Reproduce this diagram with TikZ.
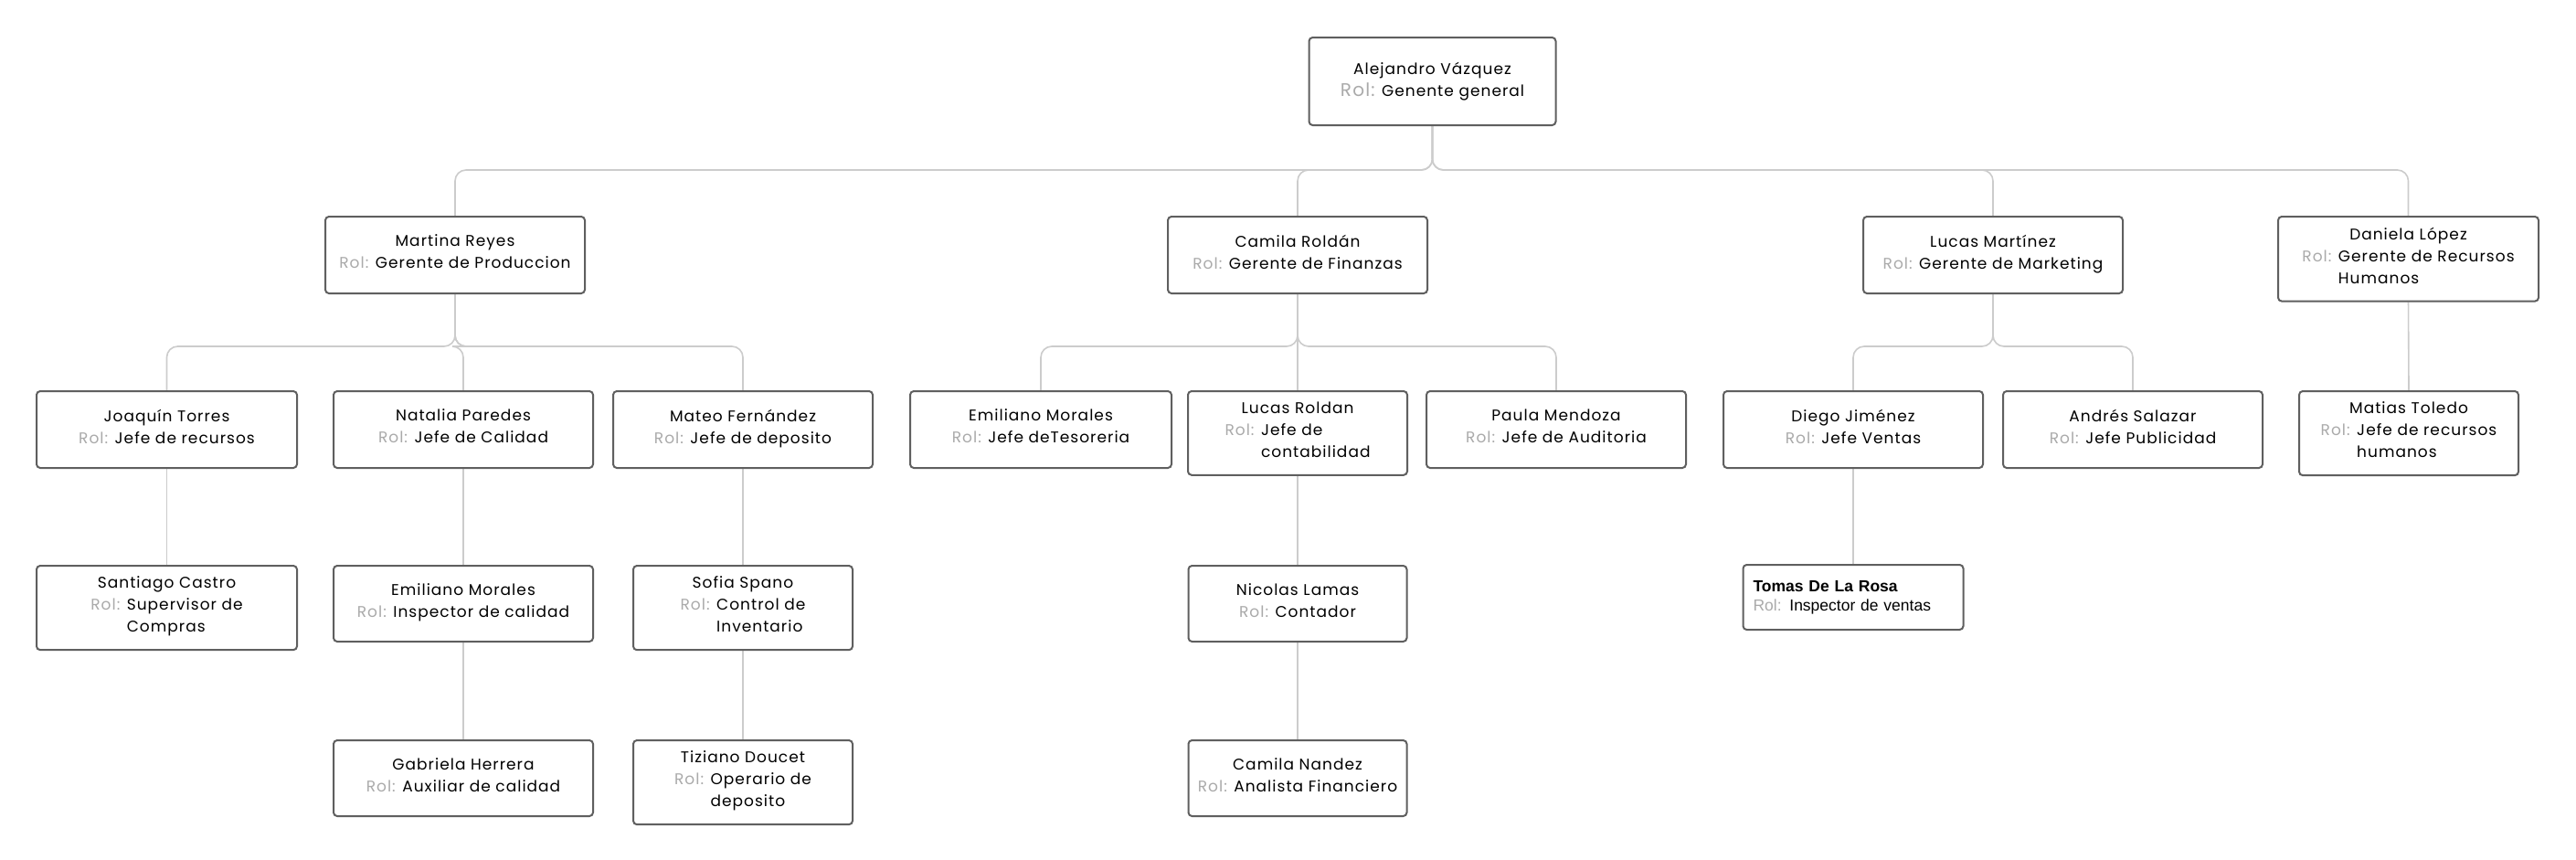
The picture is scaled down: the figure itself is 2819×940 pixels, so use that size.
\documentclass[tikz,border=0pt]{standalone}
\usepackage{fontspec}
\setmainfont{Poppins}[LetterSpace=6]
\newfontfamily\arialfont{Liberation Sans}
\usetikzlibrary{backgrounds}
\definecolor{borde}{HTML}{5F5F5F}
\definecolor{linea}{HTML}{CCCCCC}
\definecolor{rolgris}{HTML}{AAAAAA}
\newcommand{\rol}[1]{{\color{rolgris}Rol:} \begin{tabular}[t]{@{}l@{}}#1\end{tabular}}

\begin{document}
\begin{tikzpicture}[x=1pt,y=1pt,
    caja/.style={draw=borde, line width=2pt, rounded corners=4pt, fill=white,
      anchor=north, align=center, inner ysep=12pt, minimum width=284pt,
      minimum height=84pt, font=\fontsize{17}{24}\selectfont},
    conector/.style={draw=linea, line width=1.6pt, rounded corners=12pt}]
  \useasboundingbox (0,0) rectangle (2819,-940);

  % gerente general
  \node[caja, minimum width=270pt, minimum height=96pt] (av) at (1567.5,-40)
    {Alejandro Vázquez\\{\fontsize{20}{24}\selectfont\color{rolgris}Rol:} Genente general};

  % gerentes
  \node[caja] (mr) at (498,-236) {Martina Reyes\\\rol{Gerente de Produccion}};
  \node[caja] (cr) at (1420,-236) {Camila Roldán\\\rol{Gerente de Finanzas}};
  \node[caja] (lm) at (2181,-236) {Lucas Martínez\\\rol{Gerente de Marketing}};
  \node[caja, minimum width=285pt] (dl) at (2635.5,-236) {Daniela López\\\rol{Gerente de Recursos\\Humanos}};

  % jefes
  \node[caja, minimum width=285pt] (jt) at (182.5,-427) {Joaquín Torres\\\rol{Jefe de recursos}};
  \node[caja] (np) at (507,-427) {Natalia Paredes\\\rol{Jefe de Calidad}};
  \node[caja] (mf) at (813,-427) {Mateo Fernández\\\rol{Jefe de deposito}};
  \node[caja, minimum width=286pt] (em) at (1139,-427) {Emiliano Morales\\\rol{Jefe deTesoreria}};
  \node[caja, minimum width=240pt] (lr) at (1420,-427) {Lucas Roldan\\\rol{Jefe de\\contabilidad}};
  \node[caja] (pm) at (1703,-427) {Paula Mendoza\\\rol{Jefe de Auditoria}};
  \node[caja] (dj) at (2028,-427) {Diego Jiménez\\\rol{Jefe Ventas}};
  \node[caja] (as) at (2334,-427) {Andrés Salazar\\\rol{Jefe Publicidad}};
  \node[caja, minimum width=240pt] (mt) at (2636,-427) {Matias Toledo\\\rol{Jefe de recursos\\humanos}};

  % tercer nivel
  \node[caja, minimum width=285pt] (sc) at (182.5,-618) {Santiago Castro\\\rol{Supervisor de\\Compras}};
  \node[caja, minimum height=83pt] (em2) at (507,-618) {Emiliano Morales\\\rol{Inspector de calidad}};
  \node[caja, minimum width=240pt] (ss) at (813,-618) {Sofia Spano\\\rol{Control de\\Inventario}};
  \node[caja, minimum width=239pt, minimum height=83pt] (nl) at (1420,-618) {Nicolas Lamas\\\rol{Contador}};
  \node[caja, minimum width=241pt, minimum height=71pt, align=left, inner xsep=11pt,
    text width=219pt, font=\arialfont\fontsize{17.5}{21}\selectfont] (tr) at (2028,-617)
    {{\bfseries Tomas De La Rosa}\\{\color{rolgris}Rol:} Inspector de ventas};

  % cuarto nivel
  \node[caja, minimum height=83pt] (gh) at (507,-809) {Gabriela Herrera\\\rol{Auxiliar de calidad}};
  \node[caja, minimum width=240pt] (td) at (813,-809) {Tiziano Doucet\\\rol{Operario de\\deposito}};
  \node[caja, minimum width=239pt, minimum height=83pt] (cn) at (1420,-809) {Camila Nandez\\\rol{Analista Financiero}};

  \begin{pgfonlayer}{background}
    \fill[white] (0,0) rectangle (2819,-940);
    \draw[conector] (av.south) -- ++(0,-48) -| (mr.north);
    \draw[conector] (av.south) -- ++(0,-48) -| (cr.north);
    \draw[conector] (av.south) -- ++(0,-48) -| (lm.north);
    \draw[conector] (av.south) -- ++(0,-48) -| (dl.north);

    \draw[conector] (mr.south) -- ++(0,-57) -| (jt.north);
    \draw[conector] (mr.south) -- ++(0,-57) -| (np.north);
    \draw[conector] (mr.south) -- ++(0,-57) -| (mf.north);
    \draw[conector] (cr.south) -- ++(0,-57) -| (em.north);
    \draw[conector] (cr.south) -- (lr.north);
    \draw[conector] (cr.south) -- ++(0,-57) -| (pm.north);
    \draw[conector] (lm.south) -- ++(0,-57) -| (dj.north);
    \draw[conector] (lm.south) -- ++(0,-57) -| (as.north);
    \draw[conector] (dl.south) -- (mt.north);

    \draw[conector] (jt.south) -- (sc.north);
    \draw[conector] (np.south) -- (em2.north);
    \draw[conector] (mf.south) -- (ss.north);
    \draw[conector] (lr.south) -- (nl.north);
    \draw[conector] (dj.south) -- (tr.north);

    \draw[conector] (em2.south) -- (gh.north);
    \draw[conector] (ss.south) -- (td.north);
    \draw[conector] (nl.south) -- (cn.north);
  \end{pgfonlayer}
\end{tikzpicture}
\end{document}
